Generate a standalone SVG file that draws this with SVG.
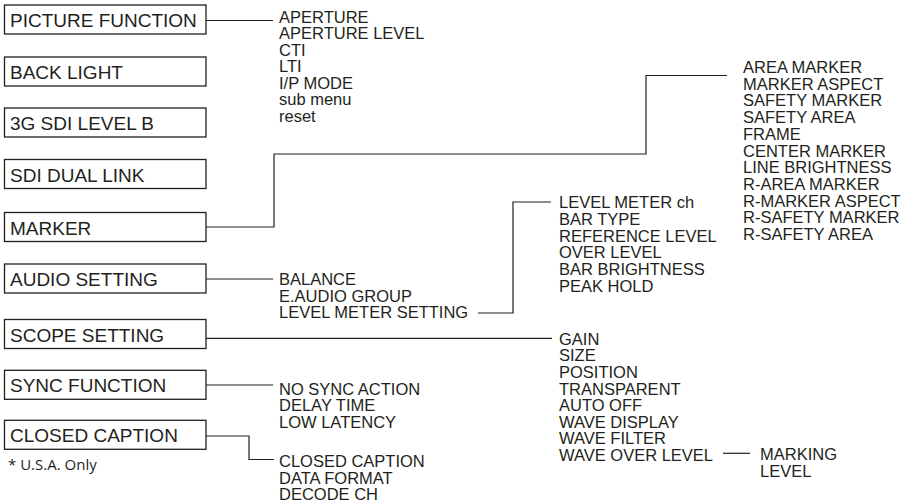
<svg xmlns="http://www.w3.org/2000/svg" width="902" height="504" viewBox="0 0 902 504">
<style>
.box rect{fill:#fff;stroke:#231f20;stroke-width:1.3}
.bt{font-family:"Liberation Sans",Arial,sans-serif;font-size:19px;fill:#231f20}
.st{font-family:"Liberation Sans",Arial,sans-serif;font-size:16.5px;fill:#231f20}
.note{font-family:"Open Sans","Liberation Sans",sans-serif;font-size:15px;fill:#231f20}
#connectors path{fill:none;stroke:#231f20;stroke-width:1.2}
</style>
<rect width="902" height="504" fill="#fff"/>
<g id="connectors">
<path d="M206 20.5H273"/>
<path d="M206 227H274V154H646V75.5H727"/>
<path d="M206 279H273"/>
<path d="M478 313H513V202H551"/>
<path d="M206 338.3H552"/>
<path d="M723 453.3H750"/>
<path d="M206 385H273"/>
<path d="M206 436H249V459.5H274"/>
</g>
<g id="n-picture" class="box"><rect x="4.5" y="5" width="201.5" height="29"/><text class="bt" x="10" y="27">PICTURE FUNCTION</text></g>
<g id="n-backlight" class="box"><rect x="4.5" y="57" width="201.5" height="29"/><text class="bt" x="10" y="79">BACK LIGHT</text></g>
<g id="n-3g" class="box"><rect x="4.5" y="108" width="201.5" height="29"/><text class="bt" x="10" y="130">3G SDI LEVEL B</text></g>
<g id="n-sdi" class="box"><rect x="4.5" y="159.5" width="201.5" height="29"/><text class="bt" x="10" y="181.5">SDI DUAL LINK</text></g>
<g id="n-marker" class="box"><rect x="4.5" y="212.5" width="201.5" height="29"/><text class="bt" x="10" y="234.5">MARKER</text></g>
<g id="n-audio" class="box"><rect x="4.5" y="264" width="201.5" height="29"/><text class="bt" x="10" y="286">AUDIO SETTING</text></g>
<g id="n-scope" class="box"><rect x="4.5" y="319.5" width="201.5" height="29"/><text class="bt" x="10" y="341.5">SCOPE SETTING</text></g>
<g id="n-sync" class="box"><rect x="4.5" y="370.3" width="201.5" height="29"/><text class="bt" x="10" y="392.3">SYNC FUNCTION</text></g>
<g id="n-cc" class="box"><rect x="4.5" y="420.3" width="201.5" height="29"/><text class="bt" x="10" y="442.3">CLOSED CAPTION</text></g>
<g id="n-note"><text class="note" x="8" y="470">* U.S.A. Only</text></g>
<g id="l-picture" class="st">
<text x="279" y="22.5">APERTURE</text>
<text x="279" y="39">APERTURE LEVEL</text>
<text x="279" y="55.5">CTI</text>
<text x="279" y="72">LTI</text>
<text x="279" y="88.5">I/P MODE</text>
<text x="279" y="105">sub menu</text>
<text x="279" y="121.5">reset</text>
</g>
<g id="l-marker" class="st">
<text x="743" y="73">AREA MARKER</text>
<text x="743" y="89.7">MARKER ASPECT</text>
<text x="743" y="106.4">SAFETY MARKER</text>
<text x="743" y="123.1">SAFETY AREA</text>
<text x="743" y="139.8">FRAME</text>
<text x="743" y="156.5">CENTER MARKER</text>
<text x="743" y="173.2">LINE BRIGHTNESS</text>
<text x="743" y="189.9">R-AREA MARKER</text>
<text x="743" y="206.6">R-MARKER ASPECT</text>
<text x="743" y="223.3">R-SAFETY MARKER</text>
<text x="743" y="240">R-SAFETY AREA</text>
</g>
<g id="l-levelmeter" class="st">
<text x="559" y="208.3">LEVEL METER ch</text>
<text x="559" y="225">BAR TYPE</text>
<text x="559" y="241.7">REFERENCE LEVEL</text>
<text x="559" y="258.3">OVER LEVEL</text>
<text x="559" y="275">BAR BRIGHTNESS</text>
<text x="559" y="291.7">PEAK HOLD</text>
</g>
<g id="l-audio" class="st">
<text x="279" y="285">BALANCE</text>
<text x="279" y="301.6">E.AUDIO GROUP</text>
<text x="279" y="318.2">LEVEL METER SETTING</text>
</g>
<g id="l-scope" class="st">
<text x="559" y="344.8">GAIN</text>
<text x="559" y="361.4">SIZE</text>
<text x="559" y="378">POSITION</text>
<text x="559" y="394.6">TRANSPARENT</text>
<text x="559" y="411.2">AUTO OFF</text>
<text x="559" y="427.8">WAVE DISPLAY</text>
<text x="559" y="444.4">WAVE FILTER</text>
<text x="559" y="461">WAVE OVER LEVEL</text>
</g>
<g id="l-wave" class="st">
<text x="760" y="460">MARKING</text>
<text x="760" y="477">LEVEL</text>
</g>
<g id="l-sync" class="st">
<text x="279" y="394.5">NO SYNC ACTION</text>
<text x="279" y="411">DELAY TIME</text>
<text x="279" y="427.5">LOW LATENCY</text>
</g>
<g id="l-cc" class="st">
<text x="279" y="467">CLOSED CAPTION</text>
<text x="279" y="483.7">DATA FORMAT</text>
<text x="279" y="500.4">DECODE CH</text>
</g>
</svg>
